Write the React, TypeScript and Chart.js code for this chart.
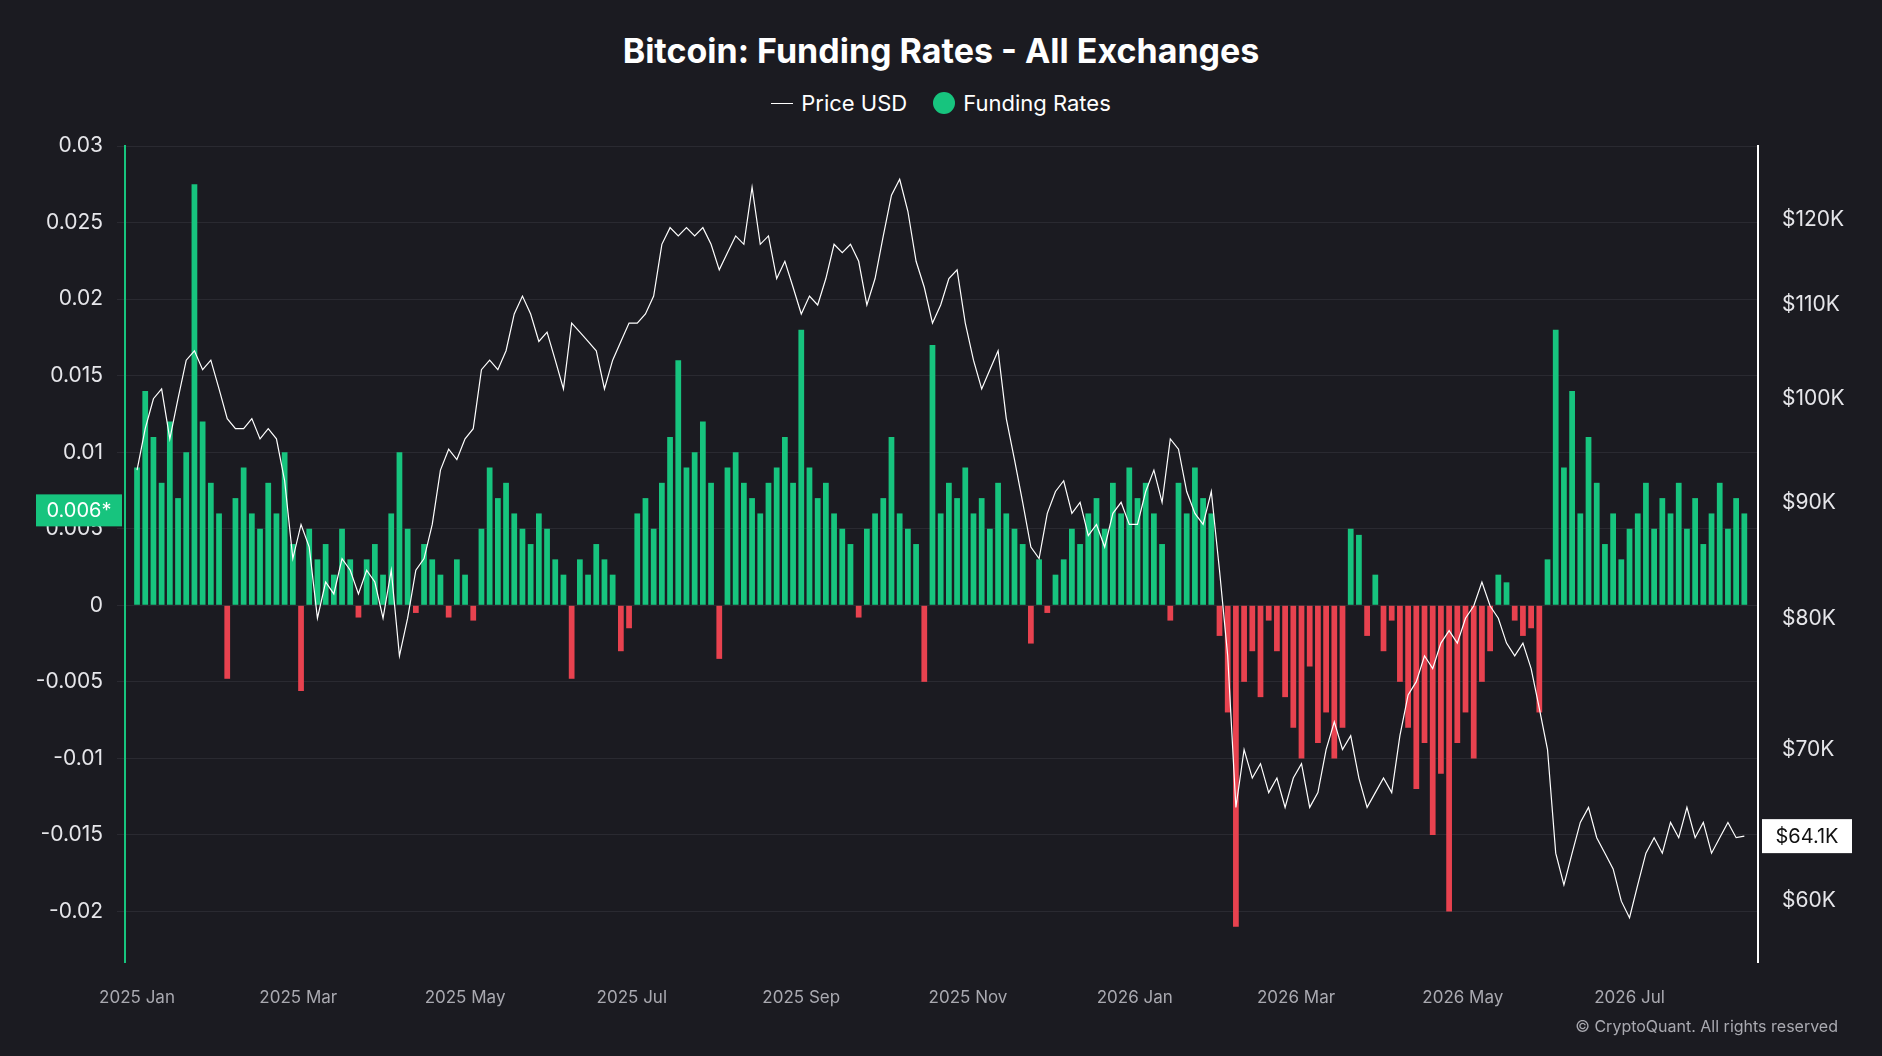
import React, { useEffect, useRef } from "react";
import { Chart, registerables } from "chart.js";
Chart.register(...registerables);

// sample every 3 days starting 2025-01-01
const STEP_DAYS = 3;
const priceK = [93,97,100,101,96,100,104,105,103,104,101,98,97,97,98,96,97,96,92,85,88,86,80,83,82,85,84,82,84,83,80,84,77,80,84,85,88,93,95,94,96,97,103,104,103,105,109,111,109,106,107,104,101,108,107,106,105,101,104,106,108,108,109,111,117,119,118,119,118,119,117,114,116,118,117,124,117,118,113,115,112,109,111,110,113,117,116,117,115,110,113,118,123,125,121,115,112,108,110,113,114,108,104,101,103,105,98,94,90,86,85,89,91,92,89,90,87,88,86,89,90,88,88,91,93,90,96,95,91,89,88,91,84,77,66,70,68,69,67,68,66,68,69,66,67,70,72,70,71,68,66,67,68,67,71,74,75,77,76,78,79,78,80,81,83,81,80,78,77,78,76,73,70,63,61,63,65,66,64,63,62,60,59,61,63,64,63,65,64,66,64,65,63,64,65,64,64.1];
const funding = [9,14,11,8,12,7,10,27.5,12,8,6,-4.8,7,9,6,5,8,6,10,4,-5.6,5,3,4,2,5,3,-0.8,3,4,2,6,10,5,-0.5,4,3,2,-0.8,3,2,-1,5,9,7,8,6,5,4,6,5,3,2,-4.8,3,2,4,3,2,-3,-1.5,6,7,5,8,11,16,9,10,12,8,-3.5,9,10,8,7,6,8,9,11,8,18,9,7,8,6,5,4,-0.8,5,6,7,11,6,5,4,-5,17,6,8,7,9,6,7,5,8,6,5,4,-2.5,3,-0.5,2,3,5,4,6,7,5,8,6,9,7,8,6,4,-1,8,6,9,7,6,-2,-7,-21,-5,-3,-6,-1,-3,-6,-8,-10,-4,-9,-7,-10,-8,5,4.6,-2,2,-3,-1,-5,-8,-12,-9,-15,-11,-20,-9,-7,-10,-5,-3,2,1.5,-1,-2,-1.5,-7,3,18,9,14,6,11,8,4,6,3,5,6,8,5,7,6,8,5,7,4,6,8,5,7,6,6,6];
const monthTickDays = [0, 59, 120, 181, 243, 304, 365, 424, 485, 546];
const monthTickLabels = ["2025 Jan","2025 Mar","2025 May","2025 Jul","2025 Sep","2025 Nov","2026 Jan","2026 Mar","2026 May","2026 Jul"];
const leftTicks = [-0.02,-0.015,-0.01,-0.005,0,0.005,0.01,0.015,0.02,0.025,0.03];
const rightTicks = [60,70,80,90,100,110,120];

const GREEN = "#17c47e";
const RED = "#e8424f";
const BG = "#1b1b21";

export default function App() {
  const ref = useRef<HTMLCanvasElement>(null);
  useEffect(() => {
    document.body.style.margin = "0";
    document.body.style.background = BG;
    const n = Math.min(priceK.length, funding.length);
    const pricePts = priceK.slice(0, n).map((v, i) => ({ x: i * STEP_DAYS, y: v }));
    const fundPts = funding.slice(0, n).map((v, i) => ({ x: i * STEP_DAYS, y: v / 1000 }));
    const badges = {
      id: "badges",
      afterDraw(c: any) {
        const ctx = c.ctx;
        const yl = c.scales.y, yr = c.scales.y2;
        ctx.save();
        const ly = yl.getPixelForValue(0.0062);
        ctx.fillStyle = GREEN;
        ctx.fillRect(36, ly - 16, 86, 32);
        ctx.fillStyle = "#fff";
        ctx.font = "20px Inter, 'Noto Sans', sans-serif";
        ctx.textAlign = "center"; ctx.textBaseline = "middle";
        ctx.fillText("0.006*", 79, ly + 1);
        const ry = yr.getPixelForValue(priceK[n - 1]);
        ctx.fillStyle = "#fff";
        ctx.fillRect(1762, ry - 17, 90, 34);
        ctx.fillStyle = "#111";
        ctx.fillText("$64.1K", 1807, ry + 1);
        ctx.restore();
      },
    };
    const chart = new Chart(ref.current!, {
      type: "bar",
      data: {
        datasets: [
          {
            type: "line", label: "Price USD", data: pricePts as any, yAxisID: "y2",
            borderColor: "#ffffff", borderWidth: 1.2, pointRadius: 0, tension: 0, order: 0,
          },
          {
            type: "bar", label: "Funding Rates", data: fundPts as any, yAxisID: "y",
            backgroundColor: fundPts.map((p) => (p.y >= 0 ? GREEN : RED)),
            barPercentage: 0.7, categoryPercentage: 1, order: 1,
          },
        ],
      },
      options: {
        animation: false, responsive: false,
        layout: { padding: { top: 146, left: 0, right: 0, bottom: 0 } },
        plugins: { legend: { display: false }, tooltip: { enabled: false } },
        scales: {
          x: {
            type: "linear", min: -4.4, max: 593, offset: false,
            grid: { display: false }, border: { display: false },
            ticks: { color: "#a9a9b0", font: { size: 17, family: "Inter" }, padding: 18,
              callback: (v: any) => { const k = monthTickDays.indexOf(v); return k >= 0 ? monthTickLabels[k] : ""; } },
            afterBuildTicks: (s: any) => { s.ticks = monthTickDays.map((v) => ({ value: v })); },
            afterFit: (s: any) => { s.height = 94; },
          },
          y: {
            position: "left", min: -0.0233, max: 0.03,
            grid: { color: "#2a2a31", lineWidth: 1 },
            border: { display: true, color: GREEN, width: 2 },
            ticks: { color: "#e6e6ea", font: { size: 21, family: "Inter" }, padding: 14,
              callback: (v: any) => String(Math.round(v * 1000) / 1000) },
            afterBuildTicks: (s: any) => { s.ticks = leftTicks.map((v) => ({ value: v })); },
            afterFit: (s: any) => { s.width = 125; },
          },
          y2: {
            type: "logarithmic", position: "right", min: 56.4, max: 129.3,
            grid: { display: false },
            border: { display: true, color: "#ffffff", width: 2 },
            ticks: { color: "#e6e6ea", font: { size: 21, family: "Inter" }, padding: 16,
              callback: (v: any) => "$" + v + "K" },
            afterBuildTicks: (s: any) => { s.ticks = rightTicks.map((v) => ({ value: v })); },
            afterFit: (s: any) => { s.width = 124; },
          },
        },
      },
      plugins: [badges],
    });
    return () => chart.destroy();
  }, []);
  return (
    <div style={{ position: "relative", width: 1882, height: 1056, background: BG, fontFamily: "Inter, 'Noto Sans', sans-serif" }}>
      <div style={{ position: "absolute", top: 30, width: "100%", textAlign: "center", color: "#fff", fontSize: 34, fontWeight: 700 }}>
        Bitcoin: Funding Rates - All Exchanges
      </div>
      <div style={{ position: "absolute", top: 90, width: "100%", textAlign: "center", color: "#fff", fontSize: 22, display: "flex", justifyContent: "center", alignItems: "center", gap: 8 }}>
        <span style={{ display: "inline-block", width: 22, borderTop: "1.5px solid #fff" }} />
        <span>Price USD</span>
        <span style={{ display: "inline-block", width: 22, height: 22, borderRadius: 11, background: GREEN, marginLeft: 18 }} />
        <span>Funding Rates</span>
      </div>
      <canvas ref={ref} width={1882} height={1056} style={{ position: "absolute", left: 0, top: 0 }} />
      <div style={{ position: "absolute", right: 44, top: 1016, color: "#a9a9b0", fontSize: 16 }}>
        © CryptoQuant. All rights reserved
      </div>
    </div>
  );
}
